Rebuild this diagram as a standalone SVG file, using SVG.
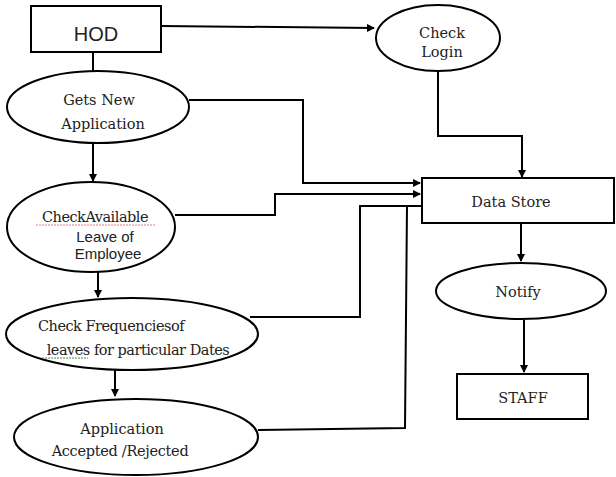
<svg xmlns="http://www.w3.org/2000/svg" width="616" height="477" viewBox="0 0 616 477">
<style>
.s{fill:#fff;stroke:#000;stroke-width:2}
.c{fill:none;stroke:#000;stroke-width:2}
.t{font-family:"DejaVu Serif","Liberation Serif",serif;font-size:14.5px;fill:#222;text-anchor:middle}
.a{font-family:"Liberation Sans",sans-serif;fill:#222;text-anchor:middle}
</style>
<defs>
<marker id="ar" markerWidth="8" markerHeight="8" refX="7" refY="4" orient="auto" markerUnits="userSpaceOnUse">
<path d="M0,0 L8,4 L0,8 Z" fill="#000"/>
</marker>
</defs>
<g id="connectors">
<path class="c" d="M161,26 L374,28" marker-end="url(#ar)"/>
<path class="c" d="M93,52 L93,71"/>
<path class="c" d="M438,71 L438,136 L522,136 L522,177" marker-end="url(#ar)"/>
<path class="c" d="M189,100 L303,100 L303,183 L420,183" marker-end="url(#ar)"/>
<path class="c" d="M93,143 L93,181" marker-end="url(#ar)"/>
<path class="c" d="M175,215 L275,215 L275,194 L420,194" marker-end="url(#ar)"/>
<path class="c" d="M98,272 L98,297" marker-end="url(#ar)"/>
<path class="c" d="M250,317 L360,317 L360,206 L422,206"/>
<path class="c" d="M115,370 L115,396" marker-end="url(#ar)"/>
<path class="c" d="M258,430 L405,428 L407,206"/>
<path class="c" d="M521,223 L521,261" marker-end="url(#ar)"/>
<path class="c" d="M524,320 L524,372" marker-end="url(#ar)"/>
</g>
<g id="hod">
<rect class="s" x="31" y="6" width="130" height="46"/>
<text class="a" x="96" y="41" font-size="20">HOD</text>
</g>
<g id="check-login">
<ellipse class="s" cx="438" cy="38" rx="62" ry="33"/>
<text class="t" x="442" y="38">Check</text>
<text class="t" x="442" y="57">Login</text>
</g>
<g id="gets-new-application">
<ellipse class="s" cx="98" cy="107" rx="91" ry="36"/>
<text class="t" x="99" y="105">Gets New</text>
<text class="t" x="103" y="129">Application</text>
</g>
<g id="data-store">
<rect class="s" x="422" y="178" width="192" height="45"/>
<text class="t" x="511" y="207">Data Store</text>
</g>
<g id="check-available">
<ellipse class="s" cx="91" cy="227" rx="84" ry="45"/>
<text class="t" x="95" y="222" letter-spacing="-0.5">CheckAvailable</text>
<line x1="36" y1="225" x2="155" y2="225" stroke="#e08080" stroke-width="1" stroke-dasharray="2,1"/>
<text class="a" x="105" y="242" font-size="15">Leave of</text>
<text class="a" x="108" y="259" font-size="15">Employee</text>
</g>
<g id="check-frequencies">
<ellipse class="s" cx="132" cy="334" rx="126" ry="36"/>
<text class="t" x="111" y="331" letter-spacing="-0.5">Check Frequenciesof</text>
<text class="t" x="138" y="355" letter-spacing="-0.5">leaves for particular Dates</text>
<line x1="42" y1="358" x2="88" y2="358" stroke="#4a8a4a" stroke-width="1" stroke-dasharray="2,1"/>
</g>
<g id="application-accepted">
<ellipse class="s" cx="136" cy="437" rx="122" ry="38"/>
<text class="t" x="122" y="434">Application</text>
<text class="t" x="120" y="456" letter-spacing="-0.3">Accepted /Rejected</text>
</g>
<g id="notify">
<ellipse class="s" cx="521" cy="291" rx="85" ry="28"/>
<text class="t" x="518" y="297">Notify</text>
</g>
<g id="staff">
<rect class="s" x="457" y="374" width="131" height="45"/>
<text class="t" x="523" y="403">STAFF</text>
</g>
</svg>
